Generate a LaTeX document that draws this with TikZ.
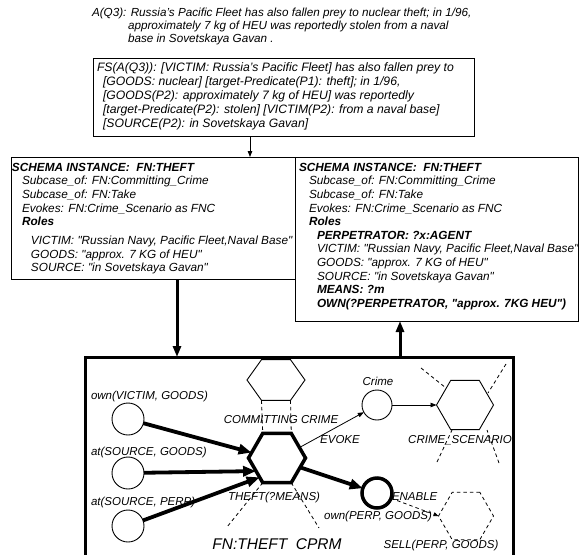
\documentclass[tikz,border=0pt]{standalone}
\usepackage{fontspec}
\setmainfont{Liberation Sans}[ItalicFont={Liberation Sans Italic},BoldFont={Liberation Sans Bold},BoldItalicFont={Liberation Sans Bold Italic}]
\usetikzlibrary{arrows.meta,shapes.geometric}
\newcommand{\dq}{\textquotedbl}
\begin{document}
\begin{tikzpicture}[x=1pt,y=-1pt,
  every node/.style={inner sep=0pt,outer sep=0pt},
  txt/.style={font=\fontsize{11.7}{13}\selectfont\itshape,align=left,anchor=north west},
  schema/.style={font=\fontsize{11.8}{13.6}\selectfont\itshape,align=left,anchor=north west},
  lbl/.style={font=\fontsize{11.5}{13}\selectfont\itshape},
  frame/.style={draw,line width=0.9pt,anchor=north west},
  hexa/.style={regular polygon,regular polygon sides=6,minimum size=57pt,draw,line width=0.9pt},
  circ/.style={circle,draw,line width=0.9pt,minimum size=32pt},
  bigarr/.style={line width=3.8pt,-{Triangle[length=13pt,width=10pt]}},
  boxarr/.style={line width=3pt,-{Triangle[length=11pt,width=8pt]}},
  thinarr/.style={line width=0.8pt,-{Triangle[length=6pt,width=4.5pt]}},
  dsh/.style={line width=0.8pt,dash pattern=on 3.5pt off 3pt},
]
\useasboundingbox[fill=white] (0,0) rectangle (580,554);

% top text
\node[txt] (q3) at (92,8) {A(Q3): Russia's Pacific Fleet has also fallen prey to nuclear theft; in 1/96,\\
\hspace*{36pt}approximately 7 kg of HEU was reportedly stolen from a naval\\
\hspace*{36pt}base in Sovetskaya Gavan .};

% FS box
\node[frame,minimum width=381pt,minimum height=78pt] (fs) at (93,58) {};
\node[txt,font=\fontsize{12.2}{14}\selectfont\itshape] (fst) at (97,62.5) {FS(A(Q3)): [VICTIM: Russia's Pacific Fleet] has also fallen prey to\\
\hspace*{6pt}[GOODS: nuclear] [target-Predicate(P1): theft]; in 1/96,\\
\hspace*{6pt}[GOODS(P2): approximately 7 kg of HEU] was reportedly\\
\hspace*{6pt}[target-Predicate(P2): stolen] [VICTIM(P2): from a naval base]\\
\hspace*{6pt}[SOURCE(P2): in Sovetskaya Gavan]};

% schema boxes
\node[frame,minimum width=284pt,minimum height=122pt] (lb) at (11,157) {};
\node[frame,minimum width=283pt,minimum height=164pt] (rb) at (295,157) {};

\node[schema] (lbt) at (12,163) {\textbf{SCHEMA INSTANCE:\ \ FN:THEFT}\\
\hspace*{10pt}Subcase\_of: FN:Committing\_Crime\\
\hspace*{10pt}Subcase\_of: FN:Take\\
\hspace*{10pt}Evokes: FN:Crime\_Scenario as FNC\\
\hspace*{10pt}\textbf{Roles}\\[5.5pt]
\hspace*{19pt}VICTIM: \dq Russian Navy, Pacific Fleet,Naval Base\dq\\
\hspace*{19pt}GOODS: \dq approx. 7 KG of HEU\dq\\
\hspace*{19pt}SOURCE: \dq in Sovetskaya Gavan\dq};

\node[schema] (rbt) at (299,163) {\textbf{SCHEMA INSTANCE:\ \ FN:THEFT}\\
\hspace*{10pt}Subcase\_of: FN:Committing\_Crime\\
\hspace*{10pt}Subcase\_of: FN:Take\\
\hspace*{10pt}Evokes: FN:Crime\_Scenario as FNC\\
\hspace*{10pt}\textbf{Roles}\\
\hspace*{18pt}\textbf{PERPETRATOR: ?x:AGENT}\\
\hspace*{18pt}VICTIM: \dq Russian Navy, Pacific Fleet,Naval Base\dq\\
\hspace*{18pt}GOODS: \dq approx. 7 KG of HEU\dq\\
\hspace*{18pt}SOURCE: \dq in Sovetskaya Gavan\dq\\
\hspace*{18pt}\textbf{MEANS: ?m}\\
\hspace*{18pt}\textbf{OWN(?PERPETRATOR, \dq approx. 7KG HEU\dq)}};

% CPRM frame
\node[frame,line width=3pt,minimum width=428pt,minimum height=215pt] (cprm) at (85,357) {};

% connectors between boxes
\draw[thinarr] ([xshift=157pt]fs.south west) -- ([xshift=239pt]lb.north west);
\draw[boxarr] ([xshift=166pt]lb.south west) -- ([xshift=92pt]cprm.north west);
\draw[boxarr] ([xshift=315pt]cprm.north west) -- ([xshift=105pt]rb.south west);

% circles and labels
\node[circ] (c1) at (128,419) {};
\node[circ] (c2) at (128,473) {};
\node[circ] (c3) at (128,526) {};
\node[lbl,anchor=west] (l1) at (91,397) {own(VICTIM, GOODS)};
\node[lbl,anchor=west] (l2) at (91,453) {at(SOURCE, GOODS)};
\node[lbl,anchor=west] (l3) at (91,503) {at(SOURCE, PERP)};

% hexagons
\begin{scope}[shift={(276,380)},yscale=0.81]
  \node[hexa,minimum size=58pt,transform shape] (cc) at (0,0) {};
\end{scope}
\node[hexa,line width=3.5pt] (theft) at (277,458) {};
\node[hexa] (cs) at (465,405) {};
\node[hexa,minimum size=55pt,draw=none] (sell) at (466,516) {};
\draw[dsh] (sell.corner 1) -- (sell.corner 2) -- (sell.corner 3) -- (sell.corner 4) -- (sell.corner 5) -- (sell.corner 6) -- cycle;

\node[circ,minimum size=30pt] (crime) at (377,405) {};
\node[circ,minimum size=30pt,line width=3.5pt] (enable) at (377,493) {};

% labels
\node[lbl] (lcc) at (281,420) {COMMITTING CRIME};
\node[lbl] (lcrime) at (378,381) {Crime};
\node[lbl] (levoke) at (340,440) {EVOKE};
\node[lbl] (lcs) at (460,440) {CRIME\_SCENARIO};
\node[lbl] (ltheft) at (274,498) {THEFT(?MEANS)};
\node[lbl,anchor=west] (lenable) at (392,497) {ENABLE};
\node[lbl] (lown) at (378,517) {own(PERP, GOODS)};
\node[lbl] (lsell) at (441,546) {SELL(PERP, GOODS)};
\node[font=\fontsize{15.5}{18}\selectfont\itshape] (lcprm) at (277,544) {FN:THEFT\ \ CPRM};

% thick arrows
\draw[bigarr] (c1) -- (theft.168);
\draw[bigarr] (c2) -- (theft.212);
\draw[bigarr] (c3) -- (theft.228);
\draw[bigarr] (theft.-22) -- (enable);

% thin arrows
\draw[thinarr] (theft.25) -- (crime);
\draw[thinarr] (crime) -- (cs);
\draw[dsh,-{Triangle[length=5pt,width=4pt]}] (enable) -- (sell.west);

% dashed links
\draw[dsh] (cc.240) -- (theft.120);
\draw[dsh] (cc.300) -- (theft.60);
\coordinate (tl) at (227,527);
\coordinate (tr) at (319,528);
\draw[dsh] (theft.240) -- (tl);
\draw[dsh] (theft.300) -- (tr);
\coordinate (o1) at (421,368);
\coordinate (o1b) at (446,388);
\coordinate (o2) at (506,364);
\coordinate (o2b) at (488,393);
\coordinate (o3) at (437,462);
\coordinate (o3b) at (452,430);
\coordinate (o4) at (499,463);
\coordinate (o4b) at (487,430);
\draw[dsh] (o1) -- (o1b);
\draw[dsh] (o2) -- (o2b);
\draw[dsh] (o3) -- (o3b);
\draw[dsh] (o4) -- (o4b);
\end{tikzpicture}
\end{document}
